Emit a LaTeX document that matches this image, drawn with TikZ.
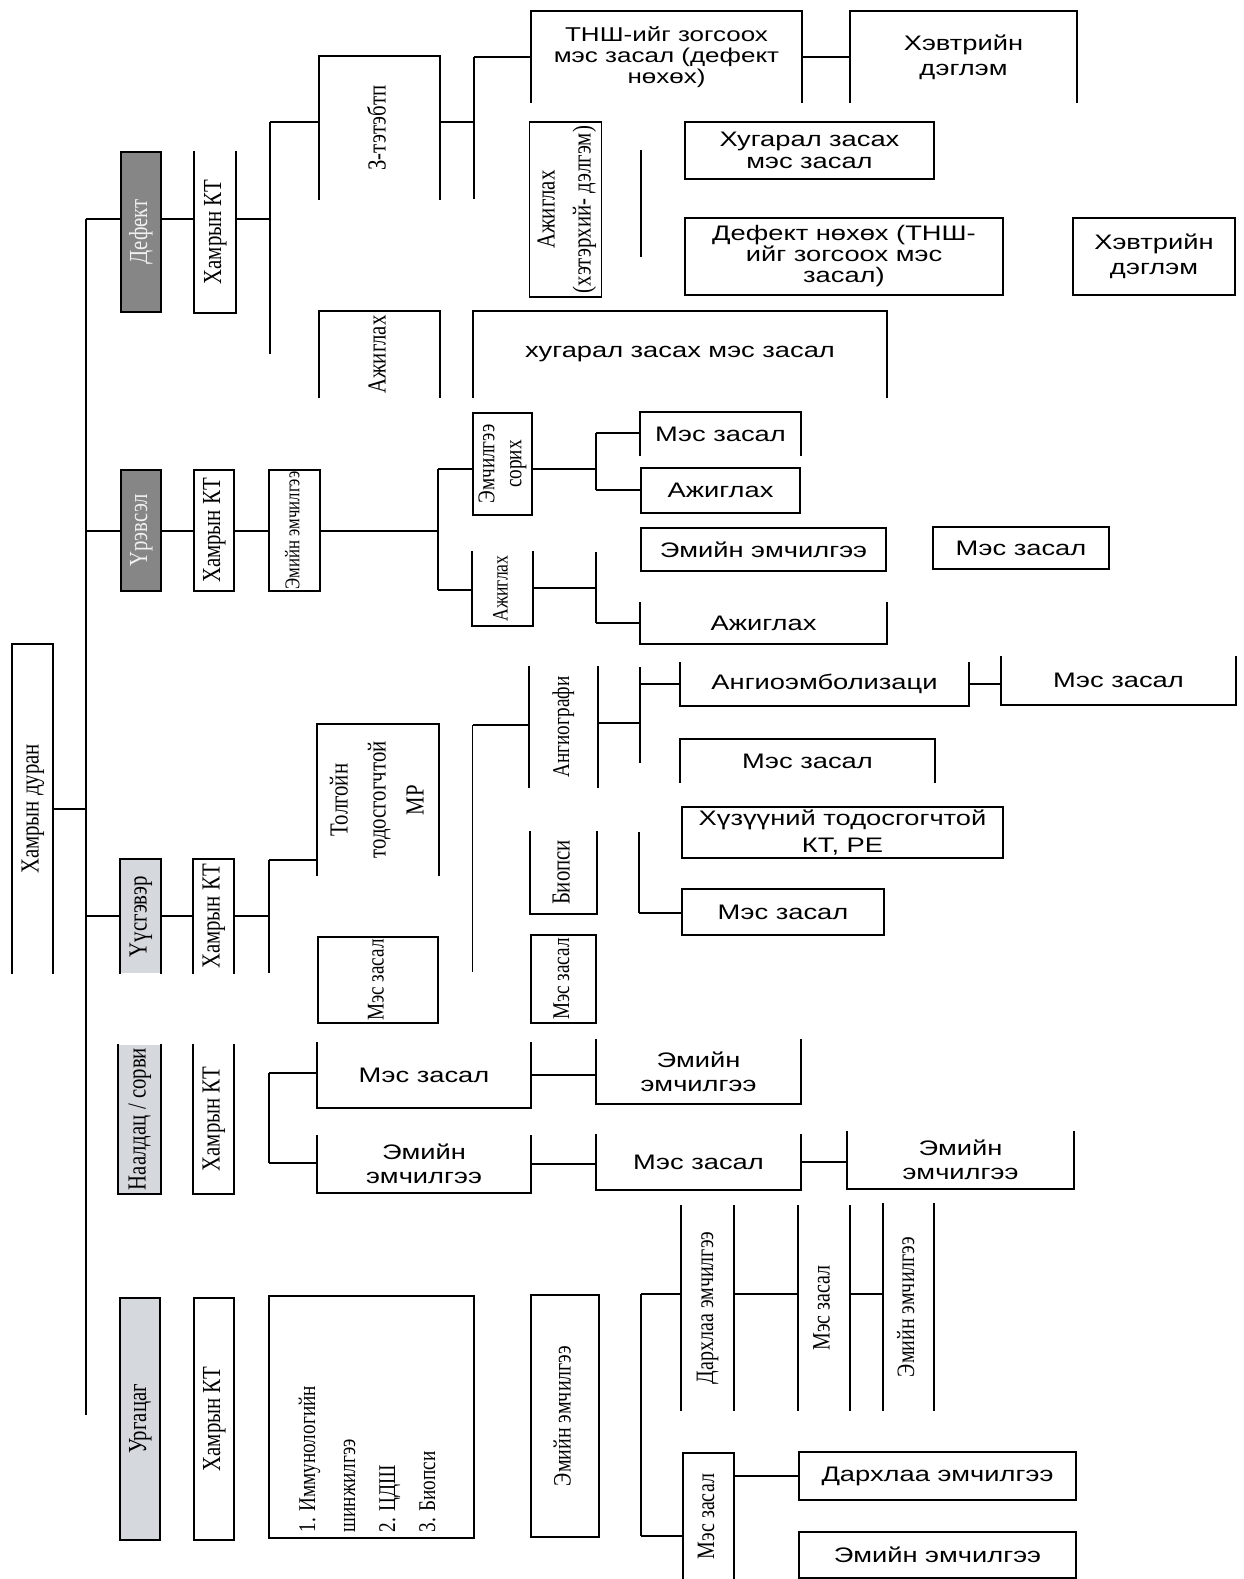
\documentclass[tikz,border=0pt]{standalone}
\usepackage{fontspec}
\newfontfamily\hfam[FakeStretch=1.3]{Liberation Sans}
\newfontfamily\vfam[FakeStretch=0.8]{Liberation Serif}
\definecolor{catdark}{HTML}{868686}
\definecolor{catlight}{HTML}{D5D9DE}
\newcommand\vtxt[1]{\rotatebox{90}{\begin{tabular}{@{}c@{}}#1\end{tabular}}}
\newcommand\capbox[1]{\draw (#1.south west) -- (#1.north west) -- (#1.north east) -- (#1.south east);}
\newcommand\cupbox[1]{\draw (#1.north west) -- (#1.south west) -- (#1.south east) -- (#1.north east);}
\newcommand\sidebox[1]{\draw (#1.north west) -- (#1.south west) (#1.north east) -- (#1.south east);}
\tikzset{
  wh/.style 2 args={minimum width=#1pt, minimum height=#2pt},
  hbox/.style={inner sep=0pt, align=center, font=\hfam\fontsize{21}{24}\selectfont},
  vbox/.style={inner sep=0pt, font=\vfam\fontsize{26}{30}\selectfont},
  hsz/.style 2 args={font=\hfam\fontsize{#1}{#2}\selectfont},
  vsz/.style 2 args={font=\vfam\fontsize{#1}{#2}\selectfont},
  cat/.style={vbox, fill=catdark, text=gray!12},
}

\begin{document}
\begin{tikzpicture}[x=1pt, y=-1pt, line width=1.6pt]
  \useasboundingbox (0,0) rectangle (1243,1579);

  \node[vbox, wh={39}{328}] (root) at (32.5,809) {\vtxt{Хамрын дуран}}; \capbox{root}

  \node[cat, draw, wh={40}{160}] (defect) at (141,232) {\vtxt{Дефект}};
  \node[cat, draw, wh={40}{121}] (inflam) at (141,530.5) {\vtxt{Үрэвсэл}};
  \node[vbox, fill=catlight, wh={39}{113}] (tumor) at (140.5,916.5) {\vtxt{Үүсгэвэр}}; \capbox{tumor}
  \node[vbox, fill=catlight, wh={41}{148}] (adhes) at (139.5,1119) {\vtxt{Наалдац / сорви}}; \cupbox{adhes}
  \node[vbox, draw, fill=catlight, wh={40}{242}] (polyp) at (140,1419) {\vtxt{Ургацаг}};

  \node[vbox, wh={40}{160}] (ct1) at (215,232) {\vtxt{Хамрын КТ}}; \cupbox{ct1}
  \node[vbox, draw, wh={40}{121}] (ct2) at (214,530.5) {\vtxt{Хамрын КТ}};
  \node[vbox, wh={39}{113}] (ct3) at (213.5,916.5) {\vtxt{Хамрын КТ}}; \capbox{ct3}
  \node[vbox, wh={39}{148}] (ct4) at (213.5,1119) {\vtxt{Хамрын КТ}}; \cupbox{ct4}
  \node[vbox, draw, wh={40}{242}] (ct5) at (214,1419) {\vtxt{Хамрын КТ}};

  \node[vbox, wh={119}{142}] (thin) at (379.5,128) {\vtxt{З-тэтэбтп}}; \capbox{thin}
  \node[vbox, wh={119}{85}] (watch1) at (379.5,354.5) {\vtxt{Ажиглах}}; \capbox{watch1}
  \node[vbox, draw, vsz={21}{24}, wh={51}{121}] (drug1) at (294.5,530.5) {\vtxt{Эмийн эмчилгээ}};
  \node[vbox, vsz={26}{38}, wh={120}{150}] (mri) at (378,800) {\vtxt{Толгойн\\тодосгогчтой\\МР}}; \capbox{mri}
  \node[vbox, draw, vsz={24}{28}, wh={120}{86}] (surg1) at (378,980) {\vtxt{Мэс засал}};
  \node[hbox, wh={212}{64}] (surg2) at (424,1075) {Мэс засал}; \cupbox{surg2}
  \node[hbox, wh={212}{56}] (drug2) at (424,1164) {Эмийн\\эмчилгээ}; \cupbox{drug2}
  \node[draw, wh={205}{242}] (lab) at (371.5,1417) {};
  \node[vbox, vsz={24}{40}, anchor=south] (labtxt) at (367,1533)
    {\rotatebox{90}{\begin{tabular}{@{}l@{}}1. Иммунологийн\\шинжилгээ\\2. ЦДШ\\3. Биопси\end{tabular}}};

  \node[hbox, hsz={20}{21}, wh={269}{90}] (csfsurg) at (666.5,57) {ТНШ-ийг зогсоох\\мэс засал (дефект\\нөхөх)}; \capbox{csfsurg}
  \node[hbox, hsz={21}{25}, wh={225}{90}] (bed1) at (963.5,57) {Хэвтрийн\\дэглэм}; \capbox{bed1}
  \node[vbox, draw, vsz={26}{36}, wh={67}{175}] (watch2) at (565.5,209.5) {\vtxt{Ажиглах\\(хэтэрхий- дэлгэм)}};
  \node[hbox, draw, hsz={21}{22}, wh={249}{57}] (fract1) at (809.5,150.5) {Хугарал засах\\мэс засал};
  \node[hbox, draw, hsz={21}{21}, wh={318}{77}] (defsurg) at (844,256.5) {Дефект нөхөх (ТНШ-\\ийг зогсоох мэс\\засал)};
  \node[hbox, draw, hsz={21}{25}, wh={162}{77}] (bed2) at (1154,256.5) {Хэвтрийн\\дэглэм};
  \node[hbox, wh={412}{85}] (fract2) at (680,354.5) {хугарал засах мэс засал}; \capbox{fract2}
  \coordinate (v1) at (641,150);
  \coordinate (v2) at (641,257);
  \draw (v1) -- (v2);

  \node[vbox, draw, vsz={24}{27}, wh={59}{102}] (trial) at (502.5,464) {\vtxt{Эмчилгээ\\сорих}};
  \node[vbox, vsz={22}{26}, wh={59}{73}] (watch3) at (502.5,588.5) {\vtxt{Ажиглах}}; \cupbox{watch3}
  \node[hbox, wh={159}{42}] (surg3) at (720.5,434) {Мэс засал}; \capbox{surg3}
  \node[hbox, draw, wh={159}{45}] (watch4) at (720.5,490.5) {Ажиглах};
  \node[hbox, draw, wh={245}{43}] (drug3) at (763.5,549.5) {Эмийн эмчилгээ};
  \node[hbox, wh={245}{40}] (watch5) at (763.5,623) {Ажиглах}; \cupbox{watch5}
  \node[hbox, draw, wh={176}{42}] (surg4) at (1021,548) {Мэс засал};

  \node[vbox, vsz={24}{28}, wh={67}{120}] (angio) at (563.5,727) {\vtxt{Ангиографи}}; \sidebox{angio}
  \node[hbox, wh={287}{42}] (embol) at (824.5,684) {Ангиоэмболизаци}; \cupbox{embol}
  \node[hbox, wh={233}{47}] (surg5) at (1118.5,680.5) {Мэс засал}; \cupbox{surg5}
  \node[hbox, wh={253}{42}] (surg6) at (807.5,761) {Мэс засал}; \capbox{surg6}
  \node[hbox, draw, hsz={21}{27}, wh={321}{51}] (neckct) at (842.5,832.5) {Хүзүүний тодосгогчтой\\КТ, РЕ};
  \node[vbox, wh={65}{81}] (biopsy) at (563.5,872.5) {\vtxt{Биопси}}; \cupbox{biopsy}
  \node[hbox, draw, wh={202}{46}] (surg7) at (783,912) {Мэс засал};
  \node[vbox, draw, vsz={24}{28}, wh={65}{88}] (surg8) at (563.5,979) {\vtxt{Мэс засал}};

  \node[hbox, wh={203}{63}] (drug4) at (698.5,1071.5) {Эмийн\\эмчилгээ}; \cupbox{drug4}
  \node[hbox, wh={203}{54}] (surg9) at (698.5,1162) {Мэс засал}; \cupbox{surg9}
  \node[hbox, wh={225}{56}] (drug5) at (960.5,1160) {Эмийн\\эмчилгээ}; \cupbox{drug5}

  \node[vbox, draw, vsz={25}{28}, wh={68}{242}] (drug6) at (565,1416) {\vtxt{Эмийн эмчилгээ}};
  \node[vbox, vsz={25}{28}, wh={51}{204}] (immun1) at (707.5,1308) {\vtxt{Дархлаа эмчилгээ}}; \sidebox{immun1}
  \node[vbox, vsz={25}{28}, wh={50}{204}] (surg10) at (824,1308) {\vtxt{Мэс засал}}; \sidebox{surg10}
  \node[vbox, vsz={25}{28}, wh={49}{206}] (drug7) at (908.5,1307) {\vtxt{Эмийн эмчилгээ}}; \sidebox{drug7}
  \node[vbox, vsz={25}{28}, wh={49}{125}] (surg11) at (708.5,1516.5) {\vtxt{Мэс засал}}; \capbox{surg11}
  \node[hbox, draw, wh={277}{48}] (immun2) at (937.5,1476) {Дархлаа эмчилгээ};
  \node[hbox, draw, wh={277}{46}] (drug8) at (937.5,1555) {Эмийн эмчилгээ};

  \coordinate (tr1) at (86,219);
  \coordinate (tr2) at (86,531);
  \coordinate (tr3) at (86,916);
  \coordinate (trend) at (86,1415);
  \draw (tr1) -- (trend);
  \draw (root.east) -- (root.east -| tr1);

  \coordinate (b1t) at (270,122);
  \coordinate (b1b) at (270,354);
  \coordinate (b2t) at (474,57);
  \coordinate (b2b) at (474,199);
  \draw (tr1) -- (tr1 -| defect.west) (tr1 -| defect.east) -- (tr1 -| ct1.west) (tr1 -| ct1.east) -- (tr1 -| b1t);
  \draw (b1t) -- (b1b);
  \draw (b1t) -- (b1t -| thin.west) (b1t -| thin.east) -- (b1t -| b2t);
  \draw (b2t) -- (b2b);
  \draw (b2t) -- (b2t -| csfsurg.west);
  \draw (csfsurg.east) -- (csfsurg.east -| bed1.west);

  \coordinate (b3t) at (438,469);
  \coordinate (b3b) at (438,590);
  \coordinate (b4t) at (596,433);
  \coordinate (b4b) at (596,490);
  \coordinate (b5t) at (596,552);
  \coordinate (b5b) at (596,623);
  \coordinate (j5) at (596,588);
  \draw (tr2) -- (tr2 -| inflam.west) (tr2 -| inflam.east) -- (tr2 -| ct2.west) (tr2 -| ct2.east) -- (tr2 -| drug1.west) (tr2 -| drug1.east) -- (tr2 -| b3t);
  \draw (b3t) -- (b3b);
  \draw (b3t) -- (b3t -| trial.west) (b3b) -- (b3b -| watch3.west);
  \draw (b3t -| trial.east) -- (b3t -| b4t);
  \draw (b4t) -- (b4b);
  \draw (b4t) -- (b4t -| surg3.west) (b4b) -- (b4b -| watch4.west);
  \draw (j5 -| watch3.east) -- (j5);
  \draw (b5t) -- (b5b);
  \draw (b5b) -- (b5b -| watch5.west);

  \coordinate (b6t) at (269,860);
  \coordinate (b6b) at (269,973);
  \coordinate (b7t) at (472.5,725);
  \coordinate (b7b) at (472.5,972);
  \coordinate (b8t) at (640,667);
  \coordinate (b8b) at (640,763);
  \coordinate (j8) at (640,723);
  \coordinate (b9t) at (639,832);
  \coordinate (b9b) at (639,913);
  \draw (tr3) -- (tr3 -| tumor.west) (tr3 -| tumor.east) -- (tr3 -| ct3.west) (tr3 -| ct3.east) -- (tr3 -| b6t);
  \draw (b6t) -- (b6b);
  \draw (b6t) -- (b6t -| mri.west);
  \draw (b7t) -- (b7b);
  \draw (b7t) -- (b7t -| angio.west);
  \draw (j8 -| angio.east) -- (j8);
  \draw (b8t) -- (b8b);
  \draw (embol.west -| b8t) -- (embol.west);
  \draw (embol.east) -- (embol.east -| surg5.west);
  \draw (b9t) -- (b9b);
  \draw (b9b) -- (b9b -| surg7.west);

  \coordinate (b10t) at (269,1073);
  \coordinate (b10b) at (269,1163);
  \draw (b10t) -- (b10b);
  \draw (b10t) -- (b10t -| surg2.west) (b10b) -- (b10b -| drug2.west);
  \draw (surg2.east) -- (surg2.east -| drug4.west);
  \draw (drug2.east) -- (drug2.east -| surg9.west);
  \draw (surg9.east) -- (surg9.east -| drug5.west);

  \coordinate (b11t) at (641,1294);
  \coordinate (b11b) at (641,1536);
  \draw (b11t) -- (b11b);
  \draw (b11t) -- (b11t -| immun1.west) (b11b) -- (b11b -| surg11.west);
  \draw (b11t -| immun1.east) -- (b11t -| surg10.west) (b11t -| surg10.east) -- (b11t -| drug7.west);
  \draw (immun2.west -| surg11.east) -- (immun2.west);
\end{tikzpicture}
\end{document}
